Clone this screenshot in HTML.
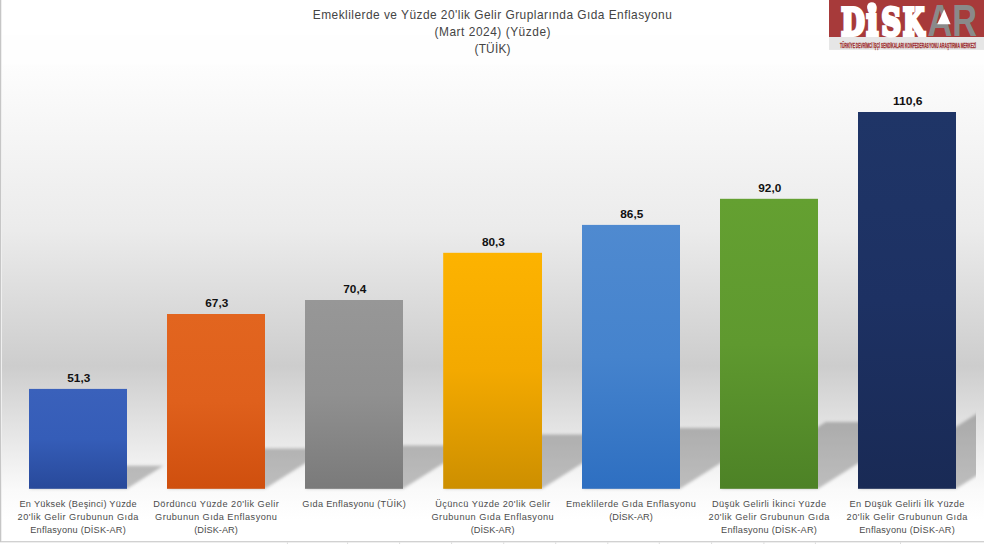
<!DOCTYPE html>
<html lang="tr"><head><meta charset="utf-8"><title>Emeklilerde ve Yüzde 20'lik Gelir Gruplarında Gıda Enflasyonu</title>
<style>
html,body{margin:0;padding:0;background:#fff;}
body{width:984px;height:544px;overflow:hidden;}
svg{display:block;}
text{font-family:"Liberation Sans",sans-serif;}
.t{fill:#444;font-size:11.9px;text-anchor:middle;}
.v{fill:#111;font-size:11.5px;font-weight:bold;text-anchor:middle;}
.c{fill:#4c4c4c;font-size:9.2px;text-anchor:middle;}
</style></head><body>
<svg width="984" height="544" viewBox="0 0 984 544">
<defs>
<linearGradient id="bg" x1="0" y1="0" x2="0" y2="1">
<stop offset="0" stop-color="#fdfdfd"/>
<stop offset="0.348" stop-color="#ebebeb"/>
<stop offset="0.6325" stop-color="#cdcdcd"/>
<stop offset="0.8926" stop-color="#fafafa"/>
<stop offset="0.955" stop-color="#ffffff"/>
<stop offset="1" stop-color="#ffffff"/>
</linearGradient>
<filter id="bl" filterUnits="userSpaceOnUse" x="0" y="380" width="1200" height="130"><feGaussianBlur stdDeviation="1.6"/></filter>
<clipPath id="cl"><rect x="0" y="0" width="976" height="544"/></clipPath>

<linearGradient id="g0" x1="0" y1="0" x2="0" y2="1"><stop offset="0" stop-color="#3a61bb"/><stop offset="0.5" stop-color="#355db8"/><stop offset="1" stop-color="#28499a"/></linearGradient>
<linearGradient id="g1" x1="0" y1="0" x2="0" y2="1"><stop offset="0" stop-color="#e2651f"/><stop offset="0.5" stop-color="#df601c"/><stop offset="1" stop-color="#cf4f0e"/></linearGradient>
<linearGradient id="g2" x1="0" y1="0" x2="0" y2="1"><stop offset="0" stop-color="#979797"/><stop offset="0.5" stop-color="#909090"/><stop offset="1" stop-color="#7a7a7a"/></linearGradient>
<linearGradient id="g3" x1="0" y1="0" x2="0" y2="1"><stop offset="0" stop-color="#fdb300"/><stop offset="0.5" stop-color="#f3a900"/><stop offset="1" stop-color="#cd8f00"/></linearGradient>
<linearGradient id="g4" x1="0" y1="0" x2="0" y2="1"><stop offset="0" stop-color="#4f8ad0"/><stop offset="0.5" stop-color="#4583cd"/><stop offset="1" stop-color="#2e6fc1"/></linearGradient>
<linearGradient id="g5" x1="0" y1="0" x2="0" y2="1"><stop offset="0" stop-color="#64a031"/><stop offset="0.5" stop-color="#5f992f"/><stop offset="1" stop-color="#4d8226"/></linearGradient>
<linearGradient id="g6" x1="0" y1="0" x2="0" y2="1"><stop offset="0" stop-color="#1f3567"/><stop offset="0.5" stop-color="#1d3163"/><stop offset="1" stop-color="#192a55"/></linearGradient>
</defs>
<rect x="0" y="0" width="984" height="544" fill="#fff"/>
<rect x="2" y="35.4" width="982" height="29.2" fill="#fefefe"/>
<rect x="2" y="64.5" width="982" height="476.7" fill="url(#bg)"/>
<g clip-path="url(#cl)"><polygon points="29.0,488.8 127.0,488.8 163.4,465.8 65.4,465.8" fill="#000" fill-opacity="0.24" filter="url(#bl)"/></g>
<rect x="29.0" y="388.9" width="98.0" height="99.9" fill="url(#g0)"/>
<g clip-path="url(#cl)"><polygon points="167.0,488.8 265.0,488.8 328.6,448.6 230.6,448.6" fill="#000" fill-opacity="0.24" filter="url(#bl)"/></g>
<rect x="167.0" y="314.0" width="98.0" height="174.8" fill="url(#g1)"/>
<g clip-path="url(#cl)"><polygon points="305.0,488.8 403.0,488.8 471.7,445.4 373.7,445.4" fill="#000" fill-opacity="0.24" filter="url(#bl)"/></g>
<rect x="305.0" y="300.0" width="98.0" height="188.8" fill="url(#g2)"/>
<g clip-path="url(#cl)"><polygon points="443.2,488.8 542.0,488.8 627.9,434.5 529.1,434.5" fill="#000" fill-opacity="0.24" filter="url(#bl)"/></g>
<rect x="443.2" y="252.8" width="98.8" height="236.0" fill="url(#g3)"/>
<g clip-path="url(#cl)"><polygon points="582.0,488.8 680.0,488.8 776.1,428.1 678.1,428.1" fill="#000" fill-opacity="0.24" filter="url(#bl)"/></g>
<rect x="582.0" y="224.9" width="98.0" height="263.9" fill="url(#g4)"/>
<g clip-path="url(#cl)"><polygon points="720.0,488.8 818.0,488.8 923.6,422.1 825.6,422.1" fill="#000" fill-opacity="0.24" filter="url(#bl)"/></g>
<rect x="720.0" y="198.8" width="98.0" height="290.0" fill="url(#g5)"/>
<g clip-path="url(#cl)"><polygon points="858.0,488.8 956.0,488.8 1093.2,402.1 995.2,402.1" fill="#000" fill-opacity="0.24" filter="url(#bl)"/></g>
<rect x="858.0" y="112.0" width="98.0" height="376.8" fill="url(#g6)"/>
<text class="v" x="78.8" y="381.8" textLength="23.0" lengthAdjust="spacingAndGlyphs">51,3</text>
<text class="v" x="216.8" y="306.9" textLength="23.0" lengthAdjust="spacingAndGlyphs">67,3</text>
<text class="v" x="354.8" y="292.9" textLength="23.0" lengthAdjust="spacingAndGlyphs">70,4</text>
<text class="v" x="493.4" y="245.7" textLength="23.0" lengthAdjust="spacingAndGlyphs">80,3</text>
<text class="v" x="631.8" y="217.8" textLength="23.0" lengthAdjust="spacingAndGlyphs">86,5</text>
<text class="v" x="769.8" y="191.7" textLength="23.0" lengthAdjust="spacingAndGlyphs">92,0</text>
<text class="v" x="907.8" y="104.9" textLength="29.6" lengthAdjust="spacingAndGlyphs">110,6</text>
<text class="c" x="78.0" y="506.8" textLength="117.1" lengthAdjust="spacing">En Yüksek (Beşinci) Yüzde</text>
<text class="c" x="78.0" y="520.0" textLength="120.8" lengthAdjust="spacing">20&#39;lik Gelir Grubunun Gıda</text>
<text class="c" x="78.0" y="533.2" textLength="95.5" lengthAdjust="spacing">Enflasyonu (DİSK-AR)</text>
<text class="c" x="216.0" y="506.8" textLength="125.6" lengthAdjust="spacing">Dördüncü Yüzde 20&#39;lik Gelir</text>
<text class="c" x="216.0" y="520.0" textLength="121.9" lengthAdjust="spacing">Grubunun Gıda Enflasyonu</text>
<text class="c" x="216.0" y="533.2" textLength="43.7" lengthAdjust="spacing">(DİSK-AR)</text>
<text class="c" x="354.0" y="506.8" textLength="103.4" lengthAdjust="spacing">Gıda Enflasyonu (TÜİK)</text>
<text class="c" x="492.6" y="506.8" textLength="114.8" lengthAdjust="spacing">Üçüncü Yüzde 20&#39;lik Gelir</text>
<text class="c" x="492.6" y="520.0" textLength="122.2" lengthAdjust="spacing">Grubunun Gıda Enflasyonu</text>
<text class="c" x="492.6" y="533.2" textLength="43.7" lengthAdjust="spacing">(DİSK-AR)</text>
<text class="c" x="631.0" y="506.8" textLength="129.9" lengthAdjust="spacing">Emeklilerde Gıda Enflasyonu</text>
<text class="c" x="631.0" y="520.0" textLength="43.7" lengthAdjust="spacing">(DİSK-AR)</text>
<text class="c" x="769.0" y="506.8" textLength="114.0" lengthAdjust="spacing">Düşük Gelirli İkinci Yüzde</text>
<text class="c" x="769.0" y="520.0" textLength="120.8" lengthAdjust="spacing">20&#39;lik Gelir Grubunun Gıda</text>
<text class="c" x="769.0" y="533.2" textLength="95.8" lengthAdjust="spacing">Enflasyonu (DİSK-AR)</text>
<text class="c" x="907.0" y="506.8" textLength="114.8" lengthAdjust="spacing">En Düşük Gelirli İlk Yüzde</text>
<text class="c" x="907.0" y="520.0" textLength="120.8" lengthAdjust="spacing">20&#39;lik Gelir Grubunun Gıda</text>
<text class="c" x="907.0" y="533.2" textLength="95.5" lengthAdjust="spacing">Enflasyonu (DİSK-AR)</text>
<text class="t" x="492.3" y="18.9" textLength="359" lengthAdjust="spacing">Emeklilerde ve Yüzde 20&#39;lik Gelir Gruplarında Gıda Enflasyonu</text>
<text class="t" x="492.5" y="36.1" textLength="116" lengthAdjust="spacing">(Mart 2024) (Yüzde)</text>
<text class="t" x="492.5" y="53.3" textLength="36" lengthAdjust="spacing">(TÜİK)</text>
<rect x="0" y="0" width="1" height="542" fill="#c6c6c6"/><rect x="1" y="0" width="1" height="541" fill="#efefef"/>
<rect x="0" y="541.2" width="984" height="1.1" fill="#c6c6c6"/>
<rect x="286.9" y="542.3" width="1" height="2" fill="#dcdcdc"/>
<rect x="347.1" y="542.3" width="1" height="2" fill="#dcdcdc"/>
<rect x="399.1" y="542.3" width="1" height="2" fill="#dcdcdc"/>
<rect x="451.1" y="542.3" width="1" height="2" fill="#dcdcdc"/>
<rect x="503.2" y="542.3" width="1" height="2" fill="#dcdcdc"/>
<rect x="555.2" y="542.3" width="1" height="2" fill="#dcdcdc"/>
<rect x="607.3" y="542.3" width="1" height="2" fill="#dcdcdc"/>
<rect x="658.8" y="542.3" width="1" height="2" fill="#dcdcdc"/>
<rect x="711.1" y="542.3" width="1" height="2" fill="#dcdcdc"/>
<rect x="763.4" y="542.3" width="1" height="2" fill="#dcdcdc"/>
<rect x="814.9" y="542.3" width="1" height="2" fill="#dcdcdc"/>
<rect x="900.0" y="542.3" width="1" height="2" fill="#dcdcdc"/>
<rect x="829" y="0" width="155" height="37.1" fill="#a73a3a"/>
<rect x="829" y="37.1" width="155" height="12.8" fill="#e6e6e6"/>
<g transform="translate(0,35.0) scale(1,1.357)"><text y="0" style="font-family:'DejaVu Serif',serif;font-weight:bold;font-size:28px;fill:#fff;stroke:#fff;stroke-width:3px;vector-effect:non-scaling-stroke;stroke-linejoin:miter"><tspan x="841.2" textLength="23.4" lengthAdjust="spacingAndGlyphs">D</tspan><tspan x="866.4" style="font-size:29px" textLength="11.6" lengthAdjust="spacingAndGlyphs">i</tspan><tspan x="881.6" textLength="19.4" lengthAdjust="spacingAndGlyphs">S</tspan><tspan x="903.0" textLength="21.2" lengthAdjust="spacingAndGlyphs">K</tspan></text></g>
<text x="927.6" y="35.6" style="font-family:'Liberation Sans',sans-serif;font-weight:bold;font-size:44.5px;fill:#8a8a8a" textLength="49.5" lengthAdjust="spacingAndGlyphs">AR</text>
<circle cx="871.8" cy="6.9" r="4.7" fill="#fff"/>
<polygon points="944.2,9.3 950.6,24.3 937.2,24.3" fill="#fff"/>
<text x="840" y="48.3" style="font-family:'Liberation Sans',sans-serif;font-weight:bold;font-size:8.1px;fill:#a03232;stroke:#a03232;stroke-width:0.35px" textLength="136" lengthAdjust="spacingAndGlyphs">TÜRKİYE DEVRİMCİ İŞÇİ SENDİKALARI KONFEDERASYONU ARAŞTIRMA MERKEZİ</text>
</svg></body></html>
